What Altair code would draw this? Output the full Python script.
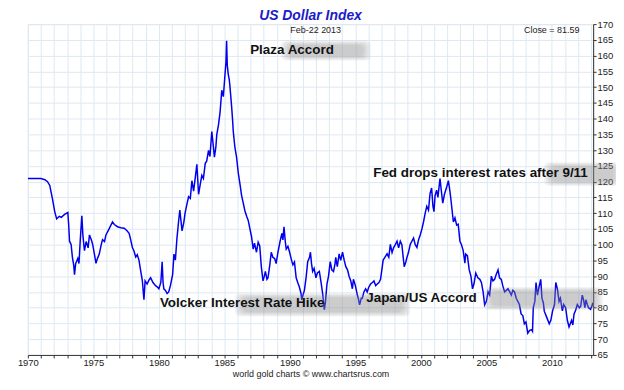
import altair as alt
import pandas as pd

# ---- data ----
years = [
    1970.00, 1970.50, 1971.00, 1971.30, 1971.50, 1971.67, 1971.87, 1972.05, 1972.20, 1972.40,
    1972.55, 1972.80, 1973.05, 1973.12, 1973.18, 1973.30, 1973.40, 1973.50, 1973.56, 1973.65,
    1973.81, 1973.90, 1974.00, 1974.12, 1974.20, 1974.32, 1974.45, 1974.60, 1974.70, 1974.85,
    1974.95, 1975.10, 1975.20, 1975.30, 1975.45, 1975.60, 1975.70, 1975.85, 1975.96, 1976.20,
    1976.46, 1976.60, 1976.84, 1977.10, 1977.35, 1977.55, 1977.73, 1977.85, 1977.98, 1978.10,
    1978.23, 1978.35, 1978.48, 1978.60, 1978.74, 1978.86, 1978.95, 1979.10, 1979.25, 1979.37,
    1979.55, 1979.75, 1979.90, 1980.00, 1980.15, 1980.25, 1980.32, 1980.38, 1980.50, 1980.63,
    1980.75, 1980.88, 1981.05, 1981.15, 1981.26, 1981.38, 1981.50, 1981.60, 1981.77, 1981.90,
    1982.00, 1982.15, 1982.27, 1982.40, 1982.52, 1982.65, 1982.80, 1982.90, 1983.03, 1983.15,
    1983.28, 1983.40, 1983.54, 1983.65, 1983.79, 1983.90, 1984.04, 1984.15, 1984.24, 1984.35,
    1984.42, 1984.55, 1984.67, 1984.80, 1984.92, 1985.05, 1985.12, 1985.17, 1985.22, 1985.30,
    1985.37, 1985.43, 1985.55, 1985.62, 1985.68, 1985.80, 1985.93, 1986.06, 1986.20, 1986.31,
    1986.45, 1986.57, 1986.70, 1986.82, 1986.95, 1987.07, 1987.20, 1987.30, 1987.45, 1987.58,
    1987.70, 1987.82, 1987.95, 1988.05, 1988.13, 1988.25, 1988.33, 1988.45, 1988.58, 1988.70,
    1988.84, 1988.95, 1989.09, 1989.25, 1989.39, 1989.47, 1989.55, 1989.65, 1989.72, 1989.85,
    1989.98, 1990.10, 1990.23, 1990.35, 1990.48, 1990.60, 1990.73, 1990.85, 1990.91, 1991.00,
    1991.11, 1991.25, 1991.36, 1991.50, 1991.57, 1991.65, 1991.74, 1991.85, 1991.99, 1992.10,
    1992.25, 1992.38, 1992.50, 1992.63, 1992.72, 1992.83, 1992.95, 1993.08, 1993.20, 1993.33,
    1993.45, 1993.50, 1993.62, 1993.76, 1993.88, 1994.02, 1994.15, 1994.27, 1994.40, 1994.52,
    1994.65, 1994.77, 1994.85, 1995.00, 1995.15, 1995.25, 1995.32, 1995.45, 1995.53, 1995.65,
    1995.78, 1995.90, 1996.02, 1996.16, 1996.30, 1996.42, 1996.55, 1996.67, 1996.80, 1996.92,
    1997.02, 1997.12, 1997.25, 1997.42, 1997.55, 1997.67, 1997.80, 1997.92, 1998.05, 1998.18,
    1998.30, 1998.43, 1998.55, 1998.65, 1998.73, 1998.85, 1998.94, 1999.05, 1999.19, 1999.30,
    1999.44, 1999.57, 1999.70, 1999.82, 1999.95, 2000.08, 2000.20, 2000.33, 2000.45, 2000.58,
    2000.70, 2000.82, 2000.92, 2001.00, 2001.08, 2001.20, 2001.30, 2001.46, 2001.55, 2001.67,
    2001.80, 2001.97, 2002.10, 2002.18, 2002.27, 2002.38, 2002.48, 2002.60, 2002.73, 2002.85,
    2002.98, 2003.10, 2003.23, 2003.36, 2003.42, 2003.55, 2003.69, 2003.82, 2003.94, 2004.05,
    2004.19, 2004.35, 2004.50, 2004.62, 2004.75, 2004.87, 2005.00, 2005.13, 2005.25, 2005.38,
    2005.50, 2005.63, 2005.75, 2005.89, 2006.00, 2006.14, 2006.25, 2006.39, 2006.52, 2006.65,
    2006.78, 2006.90, 2007.02, 2007.15, 2007.28, 2007.40, 2007.52, 2007.65, 2007.78, 2007.90,
    2008.02, 2008.16, 2008.30, 2008.45, 2008.52, 2008.58, 2008.70, 2008.79, 2008.90, 2009.04,
    2009.15, 2009.24, 2009.35, 2009.42, 2009.60, 2009.80, 2009.92, 2010.05, 2010.20, 2010.30,
    2010.42, 2010.55, 2010.65, 2010.80, 2010.90, 2011.05, 2011.18, 2011.31, 2011.50, 2011.60,
    2011.69, 2011.80, 2011.94, 2012.10, 2012.20, 2012.32, 2012.42, 2012.52, 2012.60, 2012.70,
    2012.80, 2012.95, 2013.05, 2013.14,
]
values = [
    121.0, 121.0, 121.0, 120.6, 120.0, 118.8, 114.7, 110.5, 108.2, 109.0,
    108.7, 109.6, 110.2, 106.0, 101.1, 100.1, 96.0, 93.5, 90.5, 94.0,
    95.6, 94.0, 101.5, 109.2, 103.0, 98.1, 101.0, 99.0, 103.1, 101.5,
    100.0, 96.5, 94.1, 95.5, 97.0, 100.0, 101.6, 101.0, 103.1, 105.0,
    107.2, 106.4, 105.7, 105.4, 105.2, 104.5, 103.6, 101.5, 99.1, 98.0,
    96.1, 96.8, 95.1, 92.0, 88.5, 82.5, 88.5, 87.5, 88.8, 89.5,
    88.0, 87.0, 86.5, 86.0, 88.0, 94.6, 88.0, 86.0, 85.5, 84.5,
    85.0, 87.0, 90.5, 97.0, 95.1, 102.0, 107.2, 111.0, 104.4, 107.0,
    110.0, 113.0, 115.2, 114.7, 120.3, 117.0, 122.0, 125.5, 116.0, 119.0,
    122.0, 121.0, 125.8, 126.5, 129.9, 128.0, 135.9, 131.5, 127.8, 131.0,
    134.9, 138.0, 142.0, 149.0, 147.0, 154.1, 158.0, 164.7, 157.0, 154.0,
    152.5, 150.0, 144.0, 140.0, 135.9, 131.0, 127.8, 122.8, 119.0, 115.7,
    113.0, 110.7, 109.0, 107.7, 105.0, 102.6, 98.6, 100.5, 97.6, 100.8,
    99.6, 93.0, 88.5, 90.0, 91.5, 89.0, 89.5, 93.0, 97.6, 96.0,
    95.6, 94.0, 97.6, 101.0, 103.6, 101.5, 105.7, 101.0, 98.6, 99.5,
    97.6, 95.5, 93.6, 94.5, 89.5, 88.0, 86.5, 84.5, 82.5, 84.0,
    85.5, 90.0, 94.6, 96.0, 97.6, 94.0, 91.5, 92.5, 89.5, 91.0,
    91.5, 88.0, 84.5, 79.4, 82.0, 87.5, 90.0, 94.6, 92.0, 91.5,
    94.0, 96.0, 93.0, 97.1, 95.0, 97.6, 95.0, 93.0, 92.0, 90.0,
    88.5, 86.0, 89.0, 87.0, 84.0, 82.5, 80.9, 83.0, 83.0, 85.0,
    86.0, 85.0, 86.5, 87.5, 88.0, 88.5, 87.0, 87.5, 88.0, 89.0,
    92.0, 95.1, 96.0, 97.1, 96.0, 100.1, 97.5, 99.1, 100.0, 101.1,
    99.0, 101.1, 100.0, 96.0, 93.0, 94.5, 96.0, 97.5, 100.1, 101.0,
    102.1, 100.0, 99.1, 101.5, 103.1, 105.0, 107.2, 110.0, 112.2, 111.0,
    116.2, 118.0, 112.2, 110.5, 115.5, 117.3, 115.0, 121.0, 117.5, 113.2,
    116.0, 118.3, 120.3, 118.0, 115.2, 111.0, 107.2, 108.5, 106.2, 106.5,
    101.1, 100.0, 98.1, 94.1, 97.0, 96.5, 92.0, 90.0, 86.0, 87.5,
    91.0, 89.5, 89.0, 88.0, 85.0, 80.9, 82.0, 85.0, 84.0, 90.0,
    88.5, 89.0, 90.5, 92.0, 89.5, 89.0, 87.0, 85.0, 85.5, 86.0,
    85.0, 84.0, 85.5, 85.0, 83.0, 82.0, 81.0, 78.0, 77.5, 74.9,
    75.5, 71.9, 72.8, 73.0, 72.5, 80.0, 82.0, 88.0, 84.0, 87.0,
    89.0, 83.0, 81.5, 78.9, 77.0, 74.9, 76.0, 78.9, 81.0, 88.0,
    86.0, 82.0, 83.0, 79.0, 81.0, 80.0, 76.0, 73.9, 76.0, 74.5,
    78.0, 79.0, 81.0, 80.0, 80.5, 84.0, 82.5, 80.0, 82.5, 81.0,
    80.0, 79.5, 80.5, 81.6,
]

note_texts = ["Plaza Accord", "Fed drops interest rates after 9/11",
              "Volcker Interest Rate Hike", "Japan/US Accord"]
note_years = [1986.97, 1996.36, 1980.08, 1995.83]
note_values = [160.4, 121.5, 80.1, 81.65]

# blurred grey shadow boxes behind the notes (year from, year to, value low, value high)
shadow_x1 = [1989.9, 2010.0, 1986.4, 2005.4]
shadow_x2 = [1995.6, 2014.7, 1998.6, 2013.3]
shadow_y1 = [159.8, 120.0, 78.6, 80.6]
shadow_y2 = [163.4, 124.8, 83.2, 85.2]

header_texts = ["Feb-22 2013", "Close = 81.59"]
header_years = [1991.97, 2012.1]
header_values = [167.2, 167.2]
header_aligns = ["center", "right"]

df = pd.DataFrame({"year": years, "value": values})
notes = pd.DataFrame({"text": note_texts, "year": note_years, "value": note_values})

# nested translucent rectangles to imitate the blur
rows = []
for grow in [1.0, 0.8, 0.6, 0.4, 0.2, 0.0]:
    for a, b, c, d in zip(shadow_x1, shadow_x2, shadow_y1, shadow_y2):
        rows.append({"x1": a - grow * 0.6, "x2": b + grow * 0.6,
                     "y1": c - grow * 1.4, "y2": d + grow * 1.4, "op": 0.085})
shadows = pd.DataFrame(rows)

FONT = "Liberation Sans"
x_scale = alt.Scale(domain=[1970, 2013.15], nice=False, zero=False)
y_scale = alt.Scale(domain=[65, 170], nice=False, zero=False)

x_axis = alt.Axis(
    values=list(range(1970, 2014)),
    labelExpr="datum.value % 5 == 0 ? datum.label : ''",
    format="d", grid=True, gridColor="#dde9f3", gridWidth=1,
    tickSize=3, tickColor="#333", domainColor="#333",
    labelFont=FONT, labelFontSize=9.5, labelColor="#222",
    labelFlush=False, labelOverlap=False, labelPadding=0,
    title="world gold charts \u00a9 www.chartsrus.com",
    titleFont=FONT, titleFontSize=9, titleFontWeight="normal",
    titleColor="#222", titlePadding=2,
)
y_axis = alt.Axis(
    orient="right", values=list(range(65, 171, 5)), format="d",
    grid=True, gridColor="#dde9f3", gridWidth=1,
    tickSize=3, tickColor="#333", domainColor="#333",
    labelFont=FONT, labelFontSize=9.5, labelColor="#222",
    labelFlush=False, labelOverlap=False, labelPadding=1, title=None,
)

line = alt.Chart(df).mark_line(color="#0000ee", strokeWidth=1.5, clip=True).encode(
    x=alt.X("year:Q", scale=x_scale, axis=x_axis),
    y=alt.Y("value:Q", scale=y_scale, axis=y_axis),
)

shadow = alt.Chart(shadows).mark_rect(color="#8a8a8a", cornerRadius=5).encode(
    x=alt.X("x1:Q", scale=x_scale, axis=x_axis), x2="x2:Q",
    y=alt.Y("y1:Q", scale=y_scale, axis=y_axis), y2="y2:Q",
    opacity=alt.Opacity("op:Q", scale=None, legend=None),
)

note_layer = alt.Chart(notes).mark_text(
    align="left", baseline="alphabetic", font=FONT, fontSize=13.5,
    fontWeight="bold", color="#111"
).encode(
    x=alt.X("year:Q", scale=x_scale, axis=x_axis),
    y=alt.Y("value:Q", scale=y_scale, axis=y_axis), text="text:N"
)

header_layers = []
for t, yr, v, al in zip(header_texts, header_years, header_values, header_aligns):
    hdf = pd.DataFrame({"text": [t], "year": [yr], "value": [v]})
    header_layers.append(
        alt.Chart(hdf).mark_text(align=al, baseline="alphabetic", font=FONT,
                                 fontSize=9, color="#222").encode(
            x=alt.X("year:Q", scale=x_scale, axis=x_axis),
            y=alt.Y("value:Q", scale=y_scale, axis=y_axis), text="text:N"
        )
    )

chart = alt.layer(line, shadow, note_layer, *header_layers).properties(
    width=569, height=333,
    padding={"left": 20, "top": 15, "right": 23, "bottom": 26},
    autosize=alt.AutoSizeParams(type="none"),
    title=alt.TitleParams("US Dollar Index", font=FONT, fontSize=14, fontStyle="italic",
                          fontWeight="bold", color="#1c1cc8", offset=-4, anchor="middle"),
).configure_view(stroke="#555", strokeWidth=1).configure(background="white")

chart.save("out.html", embed_options={"renderer": "svg", "actions": False})
